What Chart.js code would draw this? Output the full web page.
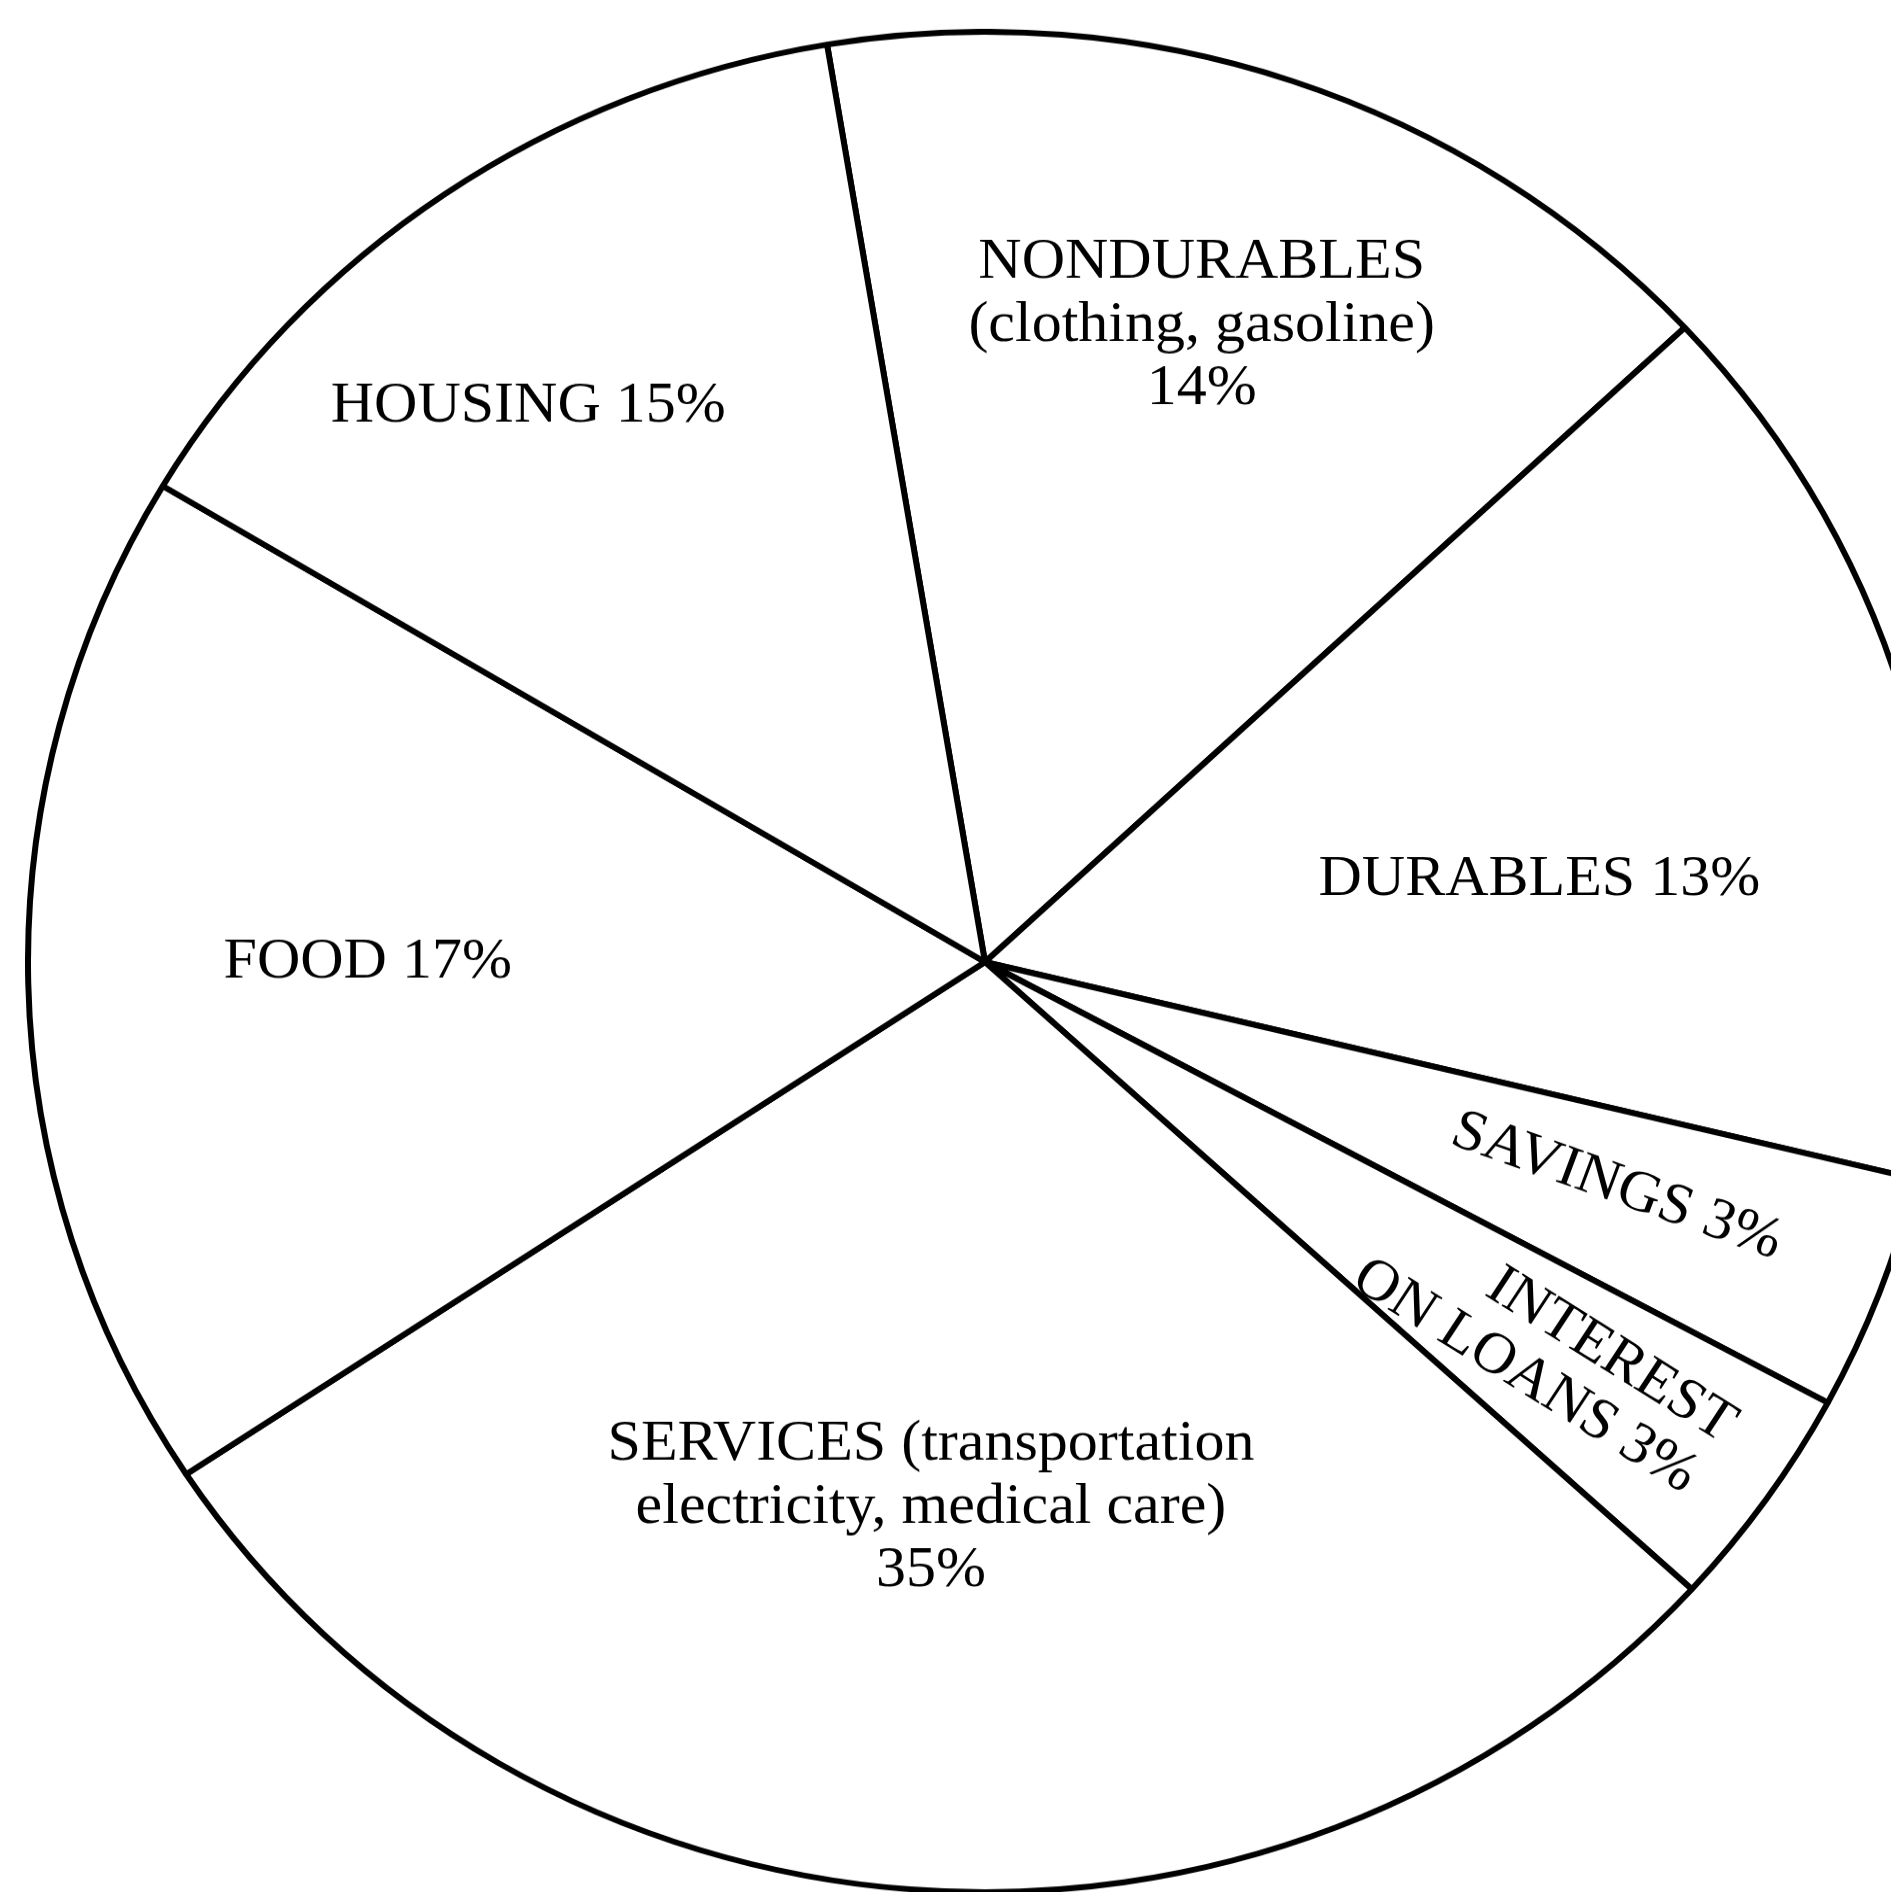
<!DOCTYPE html>
<html>
<head>
<meta charset="utf-8">
<title>Spending pie</title>
<script src="https://cdn.jsdelivr.net/npm/chart.js@4.4.0/dist/chart.umd.min.js"></script>
<style>
  html, body { margin: 0; padding: 0; background: #fff; overflow: hidden; }
  body { width: 1891px; height: 1892px; position: relative; }
  /* the printed pie is a touch squashed vertically */
  #wrap { position: absolute; left: 25px; top: 2px; width: 1920px; height: 1920px;
          transform: scaleY(0.972); transform-origin: 50% 50%; }
</style>
</head>
<body>
<div id="wrap"><canvas id="pie" width="1920" height="1920"></canvas></div>
<script>
// slices clockwise, starting from the wedge just right of the top
var categories = ['NONDURABLES', 'DURABLES', 'SAVINGS', 'INTEREST ON LOANS', 'SERVICES', 'FOOD', 'HOUSING'];
// percentages printed on the chart
var statedPct = [14, 13, 3, 3, 35, 17, 15];
// wedge sizes as actually drawn (share of the circle)
var sliceShare = [15.69, 15.69, 4.11, 3.92, 28.94, 17.83, 13.81];
var notes = ['(clothing, gasoline)', '', '', '', '(transportation', 'electricity, medical care)', ''];

function pct(i) { return statedPct[i] + '%'; }

// where the words sit: angle clockwise from top, fraction of radius, text rotation
var textBlocks = [
    { lines: [categories[0], notes[0], pct(0)], ang: 18.3, frac: 0.721, rot: 0 },
    { lines: [categories[1] + ' ' + pct(1)], ang: 81.3, frac: 0.586, rot: 0 },
    { lines: [categories[2] + ' ' + pct(2)], ang: 110.1, frac: 0.703, rot: 20 },
    { lines: ['INTEREST'], ang: 122.9, frac: 0.779, rot: 32.7 },
    { lines: ['ON LOANS ' + pct(3)], ang: 128.3, frac: 0.719, rot: 32.7 },
    { lines: [categories[4] + ' ' + notes[4], notes[5], pct(4)], ang: 185.5, frac: 0.589, rot: 0 },
    { lines: [categories[5] + ' ' + pct(5)], ang: 270, frac: 0.645, rot: 0 },
    { lines: [categories[6] + ' ' + pct(6)], ang: 321.4, frac: 0.765, rot: 0 }
];
var LINE_GAP = 65;

var sliceText = {
    id: 'sliceText',
    afterDatasetsDraw: function (chart) {
        var arc = chart.getDatasetMeta(0).data[0];
        var cx = arc.x, cy = arc.y, R = arc.outerRadius;
        var ctx = chart.ctx;
        ctx.save();
        ctx.font = '60px "Liberation Serif", "Times New Roman", serif';
        ctx.fillStyle = '#000';
        ctx.textAlign = 'center';
        ctx.textBaseline = 'middle';
        for (var i = 0; i < textBlocks.length; i++) {
            var b = textBlocks[i];
            var a = (b.ang - 90) * Math.PI / 180;
            ctx.save();
            ctx.translate(cx + Math.cos(a) * R * b.frac, cy + Math.sin(a) * R * b.frac);
            ctx.rotate(b.rot * Math.PI / 180);
            for (var j = 0; j < b.lines.length; j++) {
                ctx.fillText(b.lines[j], 0, (j - (b.lines.length - 1) / 2) * LINE_GAP);
            }
            ctx.restore();
        }
        ctx.restore();
    }
};

new Chart(document.getElementById('pie'), {
    type: 'pie',
    data: {
        labels: categories,
        datasets: [{
            data: sliceShare,
            backgroundColor: '#ffffff',
            borderColor: '#000000',
            borderWidth: 6
        }]
    },
    options: {
        responsive: false,
        animation: false,
        devicePixelRatio: 1,
        events: [],
        rotation: -9.5,
        layout: { padding: 0 },
        plugins: {
            legend: { display: false },
            tooltip: { enabled: false }
        }
    },
    plugins: [sliceText]
});
</script>
</body>
</html>
